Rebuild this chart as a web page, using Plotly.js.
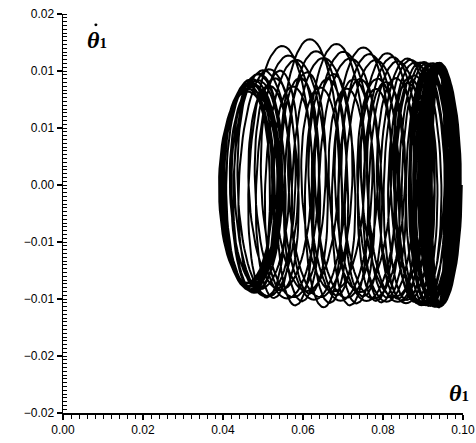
<!DOCTYPE html>
<html>
<head>
<meta charset="utf-8">
<script src="https://cdn.plot.ly/plotly-3.0.1.min.js"></script>
<style>html,body{margin:0;padding:0;background:#fff;}#chart{width:476px;height:443px;}</style>
</head>
<body>
<div id="chart"></div>
<script>
// Loops of the phase trajectory:
// centre of each loop (theta1), half width, top (max theta1-dot), bottom (min theta1-dot)
const loopCx = [
  0.0942, 0.0941, 0.0940, 0.0940, 0.0940, 0.0939, 0.0939, 0.0939, 0.0940, 0.0941, 0.0942, 0.0940,
  0.0920, 0.0850, 0.0793, 0.0725, 0.0660, 0.0593, 0.0525, 0.0480,
  0.0470, 0.0466, 0.0463, 0.0465,
  0.0492, 0.0563, 0.0635, 0.0700, 0.0768, 0.0825, 0.0873, 0.0900,
  0.0925, 0.0938, 0.0942, 0.0943, 0.0944, 0.0944, 0.0943, 0.0942, 0.0940, 0.0938,
  0.0900, 0.0850, 0.0760, 0.0692, 0.0626, 0.0558, 0.0500, 0.0472,
  0.0464, 0.0460, 0.0462,
  0.0530, 0.0600, 0.0668, 0.0735, 0.0797, 0.0850, 0.0890, 0.0915,
  0.0930, 0.0937, 0.0940, 0.0941, 0.0942, 0.0942, 0.0941, 0.0940,
  0.0905, 0.0870, 0.0820, 0.0775, 0.0710, 0.0645, 0.0575, 0.0515, 0.0478,
  0.0468, 0.0466,
  0.0510, 0.0580, 0.0650, 0.0718, 0.0782, 0.0838, 0.0880, 0.0910,
  0.0928, 0.0936, 0.0940, 0.0941
];
const loopHw = [
  0.0055, 0.0050, 0.0044, 0.0036, 0.0028, 0.0020, 0.0016, 0.0022, 0.0030, 0.0040, 0.0048, 0.0053,
  0.0056, 0.0060, 0.0062, 0.0062, 0.0063, 0.0063, 0.0064, 0.0068,
  0.0075, 0.0070, 0.0060, 0.0052,
  0.0064, 0.0063, 0.0062, 0.0062, 0.0060, 0.0058, 0.0056, 0.0055,
  0.0055, 0.0052, 0.0046, 0.0038, 0.0030, 0.0024, 0.0019, 0.0026, 0.0034, 0.0044,
  0.0054, 0.0058, 0.0060, 0.0062, 0.0063, 0.0064, 0.0066, 0.0072,
  0.0078, 0.0066, 0.0055,
  0.0058, 0.0061, 0.0062, 0.0062, 0.0060, 0.0058, 0.0056, 0.0055,
  0.0054, 0.0050, 0.0045, 0.0040, 0.0035, 0.0048, 0.0052, 0.0055,
  0.0057, 0.0059, 0.0061, 0.0062, 0.0063, 0.0063, 0.0064, 0.0066, 0.0070,
  0.0072, 0.0062,
  0.0062, 0.0062, 0.0062, 0.0061, 0.0060, 0.0058, 0.0056, 0.0055,
  0.0054, 0.0050, 0.0046, 0.0052
];
const loopTop = [
  0.0128, 0.0129, 0.0128, 0.0127, 0.0127, 0.0126, 0.0126, 0.0127, 0.0127, 0.0128, 0.0128, 0.0127,
  0.0122, 0.0110, 0.0108, 0.0113, 0.0118, 0.0119, 0.0121, 0.0116,
  0.0110, 0.0106, 0.0104, 0.0106,
  0.0120, 0.0155, 0.0153, 0.0147, 0.0144, 0.0137, 0.0132, 0.0128,
  0.0128, 0.0128, 0.0128, 0.0127, 0.0127, 0.0126, 0.0126, 0.0127, 0.0127, 0.0128,
  0.0115, 0.0105, 0.0100, 0.0102, 0.0103, 0.0104, 0.0105, 0.0104,
  0.0100, 0.0098, 0.0103,
  0.0128, 0.0133, 0.0134, 0.0133, 0.0131, 0.0130, 0.0129, 0.0128,
  0.0128, 0.0128, 0.0127, 0.0127, 0.0128, 0.0128, 0.0128, 0.0127,
  0.0120, 0.0114, 0.0112, 0.0112, 0.0111, 0.0112, 0.0113, 0.0112, 0.0110,
  0.0107, 0.0108,
  0.0125, 0.0140, 0.0141, 0.0140, 0.0137, 0.0134, 0.0131, 0.0129,
  0.0128, 0.0128, 0.0127, 0.0128
];
const loopBot = [
  -0.0128, -0.0128, -0.0129, -0.0128, -0.0127, -0.0127, -0.0126, -0.0126, -0.0127, -0.0128, -0.0128, -0.0129,
  -0.0126, -0.0124, -0.0120, -0.0119, -0.0118, -0.0118, -0.0118, -0.0114,
  -0.0112, -0.0108, -0.0106, -0.0108,
  -0.0116, -0.0126, -0.0129, -0.0128, -0.0123, -0.0119, -0.0122, -0.0126,
  -0.0128, -0.0128, -0.0128, -0.0128, -0.0127, -0.0127, -0.0126, -0.0127, -0.0127, -0.0128,
  -0.0125, -0.0120, -0.0113, -0.0112, -0.0112, -0.0111, -0.0110, -0.0108,
  -0.0104, -0.0102, -0.0106,
  -0.0110, -0.0114, -0.0116, -0.0117, -0.0118, -0.0120, -0.0124, -0.0127,
  -0.0128, -0.0128, -0.0128, -0.0127, -0.0127, -0.0128, -0.0128, -0.0128,
  -0.0127, -0.0125, -0.0123, -0.0122, -0.0122, -0.0121, -0.0120, -0.0118, -0.0114,
  -0.0110, -0.0110,
  -0.0118, -0.0122, -0.0124, -0.0125, -0.0124, -0.0122, -0.0124, -0.0127,
  -0.0128, -0.0128, -0.0127, -0.0128
];
const xTickVals = [0.00, 0.02, 0.04, 0.06, 0.08, 0.10];
const yTickVals = [-0.024, -0.018, -0.012, -0.006, 0.0, 0.006, 0.012, 0.018];

// build the continuous trajectory from the loop list
const xs = [], ys = [];
const N = 72;
for (let i = 0; i < loopCx.length; i++) {
  const j = Math.min(i + 1, loopCx.length - 1);
  for (let k = 0; k < N; k++) {
    const s = k / N, ph = 2 * Math.PI * s;
    const cx = loopCx[i] + (loopCx[j] - loopCx[i]) * s;
    const hw = loopHw[i] + (loopHw[j] - loopHw[i]) * s;
    const tp = loopTop[i] + (loopTop[j] - loopTop[i]) * s;
    const bt = loopBot[i] + (loopBot[j] - loopBot[i]) * s;
    const sn = Math.sin(ph);
    xs.push(cx + hw * Math.cos(ph));
    ys.push(sn > 0 ? sn * bt : -sn * tp);
  }
}

const trace = {
  x: xs, y: ys, type: 'scatter', mode: 'lines',
  line: {color: '#000', width: 2},
  hoverinfo: 'skip', showlegend: false
};

const serif = 'Liberation Serif, DejaVu Serif, serif';
const layout = {
  width: 476, height: 443,
  margin: {l: 63, r: 13, t: 14, b: 30},
  paper_bgcolor: '#fff', plot_bgcolor: '#fff',
  font: {family: 'Liberation Sans, Arial, sans-serif', size: 12, color: '#000'},
  xaxis: {
    range: [0, 0.10], tickvals: xTickVals, tickformat: '.2f',
    showgrid: false, zeroline: false, showline: true, linecolor: '#000', linewidth: 1.5,
    ticks: 'outside', ticklen: 5, tickwidth: 1.2, tickcolor: '#000',
    minor: {dtick: 0.002, ticks: 'outside', ticklen: 4, tickwidth: 1, tickcolor: '#000', showgrid: false},
    tickfont: {size: 12}
  },
  yaxis: {
    range: [-0.024, 0.018], tickvals: yTickVals, tickformat: '.2f',
    showgrid: false, zeroline: false, showline: true, linecolor: '#000', linewidth: 1.5,
    ticks: 'outside', ticklen: 5, tickwidth: 1.2, tickcolor: '#000',
    minor: {dtick: 0.0004, tick0: 0, ticks: 'inside', ticklen: 4, tickwidth: 1, tickcolor: '#000', showgrid: false},
    tickfont: {size: 12}
  },
  shapes: [
    {type: 'circle', xref: 'paper', yref: 'paper', x0: 0.0785, x1: 0.0860, y0: 0.969, y1: 0.9765,
     fillcolor: '#000', line: {width: 0}}
  ],
  annotations: [
    {xref: 'paper', yref: 'paper', x: 0.055, y: 0.972, xanchor: 'left', showarrow: false,
     text: '<b><i>θ</i><span style="font-size:15px">1</span></b>',
     font: {family: serif, size: 24, color: '#000'}},
    {xref: 'paper', yref: 'paper', x: 1.02, y: 0.012, xanchor: 'right', showarrow: false,
     text: '<b><i>θ</i><span style="font-size:15px">1</span></b>',
     font: {family: serif, size: 24, color: '#000'}}
  ]
};

Plotly.newPlot('chart', [trace], layout, {displayModeBar: false, staticPlot: true});
</script>
</body>
</html>
